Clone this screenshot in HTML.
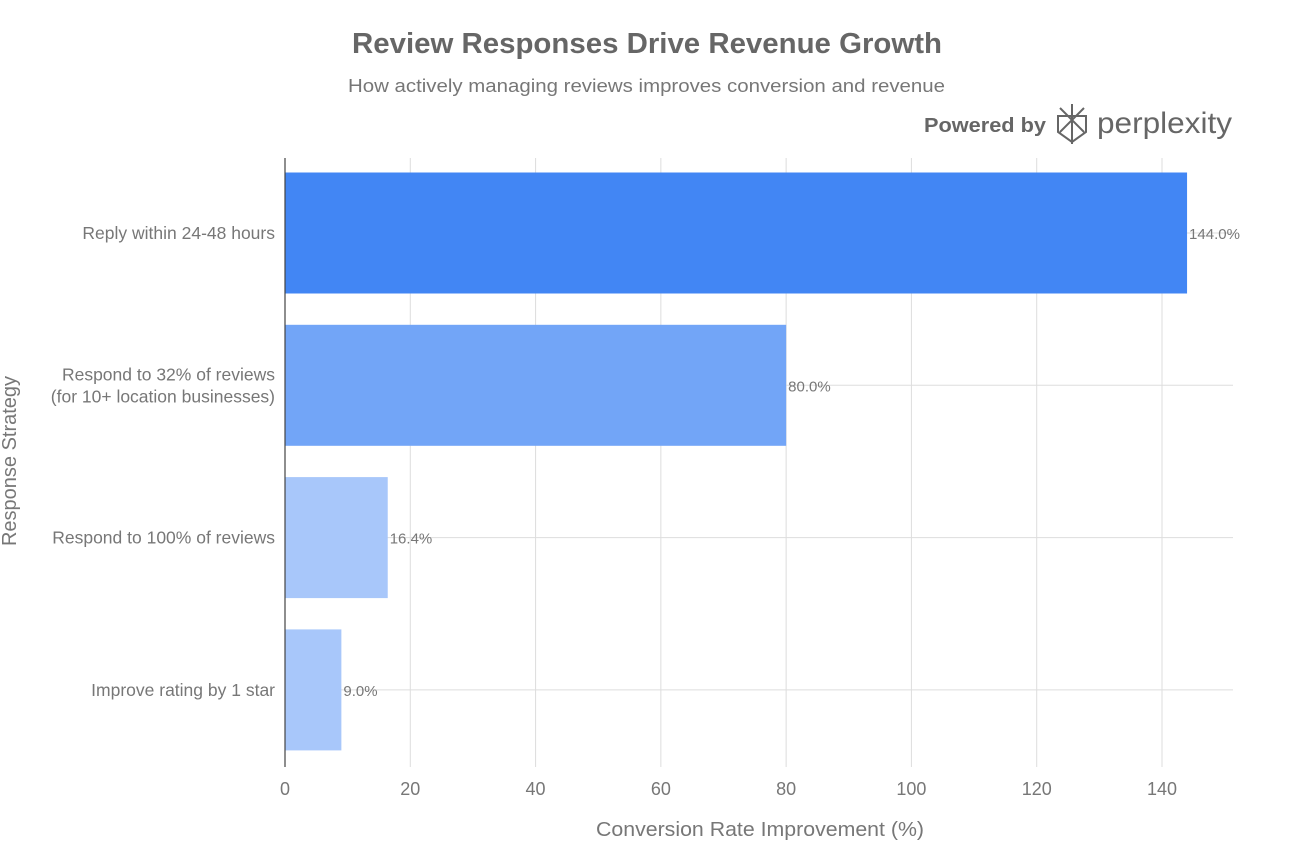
<!DOCTYPE html>
<html><head><meta charset="utf-8"><style>
body{margin:0;background:#fff;}
svg text{font-family:"Liberation Sans",sans-serif;}
</style></head><body>
<svg id="chart" width="1292" height="857" viewBox="0 0 1292 857">
<text x="352" y="53" textLength="590" lengthAdjust="spacingAndGlyphs" font-size="29" font-weight="bold" fill="#666">Review Responses Drive Revenue Growth</text>
<text x="348" y="92" textLength="597" lengthAdjust="spacingAndGlyphs" font-size="18" fill="#777">How actively managing reviews improves conversion and revenue</text>
<g>
<text x="924" y="132" textLength="122" lengthAdjust="spacingAndGlyphs" font-size="20" font-weight="bold" fill="#666">Powered by</text>
<g stroke="#666" stroke-width="2" fill="none"><path d="M1072 104 V144 M1060 108 L1084 132 M1084 108 L1060 132 M1058 116 H1086 V132 L1072 142 L1058 132 Z"/></g>
<text x="1097" y="133" textLength="135" lengthAdjust="spacingAndGlyphs" font-size="30" fill="#666">perplexity</text>
</g>
<g id="grid"></g>
<g id="bars"></g>
<line x1="285" y1="158" x2="285" y2="767" stroke="#444" stroke-width="1.2"/>
<g id="xticks"></g>
<g id="ylabels"></g>
<text x="596" y="836" textLength="328" lengthAdjust="spacingAndGlyphs" font-size="20" fill="#777">Conversion Rate Improvement (%)</text>
<text transform="translate(16,461) rotate(-90)" text-anchor="middle" font-size="20" fill="#777">Response Strategy</text>
</svg>
<script>
const categories=[["Reply within 24-48 hours"],["Respond to 32% of reviews","(for 10+ location businesses)"],["Respond to 100% of reviews"],["Improve rating by 1 star"]];
const values=[144,80,16.4,9];
const valueLabels=["144.0%","80.0%","16.4%","9.0%"];
const xTicks=[0,20,40,60,80,100,120,140];
const colors=["#4286f4","#72a5f7","#a8c7fa","#a8c7fa"];
const NS="http://www.w3.org/2000/svg";
const x=v=>285+v*(1162-285)/140;
const y=i=>233+i*152.3;
function mk(t,a,p){const e=document.createElementNS(NS,t);for(const k in a)e.setAttribute(k,a[k]);p.appendChild(e);return e;}
const grid=document.getElementById('grid'),bars=document.getElementById('bars'),xt=document.getElementById('xticks'),yl=document.getElementById('ylabels');
xTicks.forEach(t=>{
 const l=mk('line',{x1:x(t),x2:x(t),y1:158,y2:767,stroke:'#ddd','stroke-width':1},grid);
 
 
 const tx=mk('text',{x:x(t),y:795,'text-anchor':'middle','font-size':18,fill:'#777'},xt);
 tx.textContent=t;
 
 
});
categories.forEach((c,i)=>{
 const gl=mk('line',{x1:285,x2:1233,y1:y(i),y2:y(i),stroke:'#ddd','stroke-width':1},grid);
 
 
 const r=mk('rect',{x:285,y:y(i)-60.5,width:x(values[i])-285,height:121,fill:colors[i]},bars);
 
 
 const vt=mk('text',{x:x(values[i])+2,y:y(i)+6,'font-size':15,fill:'#777'},bars);
 vt.textContent=valueLabels[i];
 
 
 const n=c.length;
 c.forEach((s,j)=>{
  const t=mk('text',{x:275,y:y(i)+6+(j-(n-1)/2)*22,'text-anchor':'end','font-size':17.5,fill:'#777'},yl);
  t.textContent=s;
  
  
 });
});
</script>
</body></html>
